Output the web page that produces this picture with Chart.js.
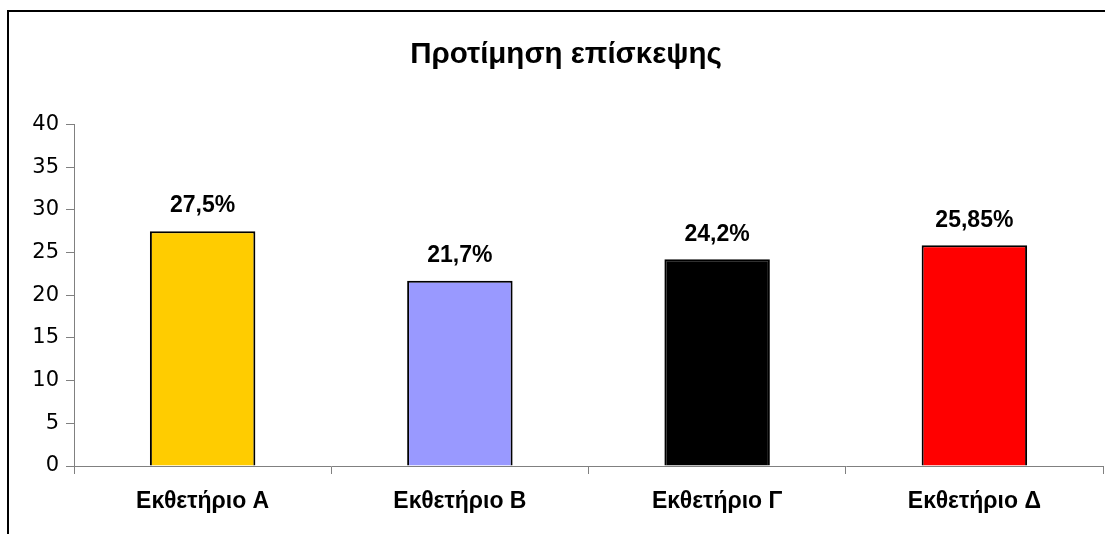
<!DOCTYPE html>
<html>
<head>
<meta charset="utf-8">
<script src="https://cdn.jsdelivr.net/npm/chart.js@4.4.1/dist/chart.umd.min.js"></script>
<style>
  html, body { margin: 0; padding: 0; background: #fff; }
  #wrap { position: relative; width: 1105px; height: 534px; overflow: hidden; }
  #frame { position: absolute; left: 7px; top: 10px; right: -4px; bottom: -4px; border-left: 2px solid #000; border-top: 2px solid #000; }
  #chart { position: absolute; left: 0; top: 0; }
</style>
</head>
<body>
<div id="wrap">
  <div id="frame"></div>
  <canvas id="chart" width="1105" height="534"></canvas>
</div>
<script>
// Preference per exhibition hall (percent of visitors)
const halls = ['Εκθετήριο Α', 'Εκθετήριο Β', 'Εκθετήριο Γ', 'Εκθετήριο Δ'];
const shares = [27.5, 21.7, 24.2, 25.85];
const shareLabels = ['27,5%', '21,7%', '24,2%', '25,85%'];
const barColors = ['#FFCC00', '#9999FF', '#000000', '#FF0000'];
const yTicks = [0, 5, 10, 15, 20, 25, 30, 35, 40];

const SANS = '"Liberation Sans", Arial, sans-serif';
const WIDE = '"DejaVu Sans", Verdana, sans-serif';
const AXIS_GREY = '#808080';

// Writes the percentage text above each bar
const barValueLabels = {
  id: 'barValueLabels',
  afterDatasetsDraw(chart) {
    const {ctx} = chart;
    const meta = chart.getDatasetMeta(0);
    ctx.save();
    ctx.fillStyle = '#000';
    ctx.font = `bold 23px ${SANS}`;
    ctx.textAlign = 'center';
    ctx.textBaseline = 'middle';
    meta.data.forEach((bar, i) => {
      ctx.fillText(shareLabels[i], bar.x, bar.y - 25);
    });
    ctx.restore();
  }
};

new Chart(document.getElementById('chart'), {
  type: 'bar',
  data: {
    labels: halls,
    datasets: [{
      data: shares,
      backgroundColor: barColors,
      borderColor: '#000',
      borderWidth: 2,
      categoryPercentage: 1,
      barPercentage: 0.41
    }]
  },
  options: {
    responsive: false,
    animation: false,
    layout: { padding: { left: 29, right: 2, top: 0, bottom: 0 } },
    plugins: {
      legend: { display: false },
      tooltip: { enabled: false },
      title: {
        display: true,
        text: 'Προτίμηση επίσκεψης',
        color: '#000',
        font: { family: SANS, size: 29.5, weight: 'bold', lineHeight: 1.2 },
        padding: { top: 37, bottom: 52 }
      }
    },
    scales: {
      x: {
        afterFit(scale) { scale.height = 68; },
        border: { display: true, color: AXIS_GREY, width: 1 },
        grid: { drawOnChartArea: false, drawTicks: true, tickLength: 8, color: AXIS_GREY, offset: true },
        ticks: {
          color: '#000',
          padding: 14,
          font: { family: SANS, size: 23, weight: 'bold' }
        }
      },
      y: {
        min: 0,
        max: 40,
        afterFit(scale) { scale.width = 45; },
        afterBuildTicks(scale) { scale.ticks = yTicks.map(v => ({value: v})); },
        border: { display: true, color: AXIS_GREY, width: 1 },
        grid: { drawOnChartArea: false, drawTicks: true, tickLength: 8, color: AXIS_GREY },
        ticks: {
          color: '#000',
          padding: 7,
          font: { family: WIDE, size: 21 }
        }
      }
    }
  },
  plugins: [barValueLabels]
});
</script>
</body>
</html>
